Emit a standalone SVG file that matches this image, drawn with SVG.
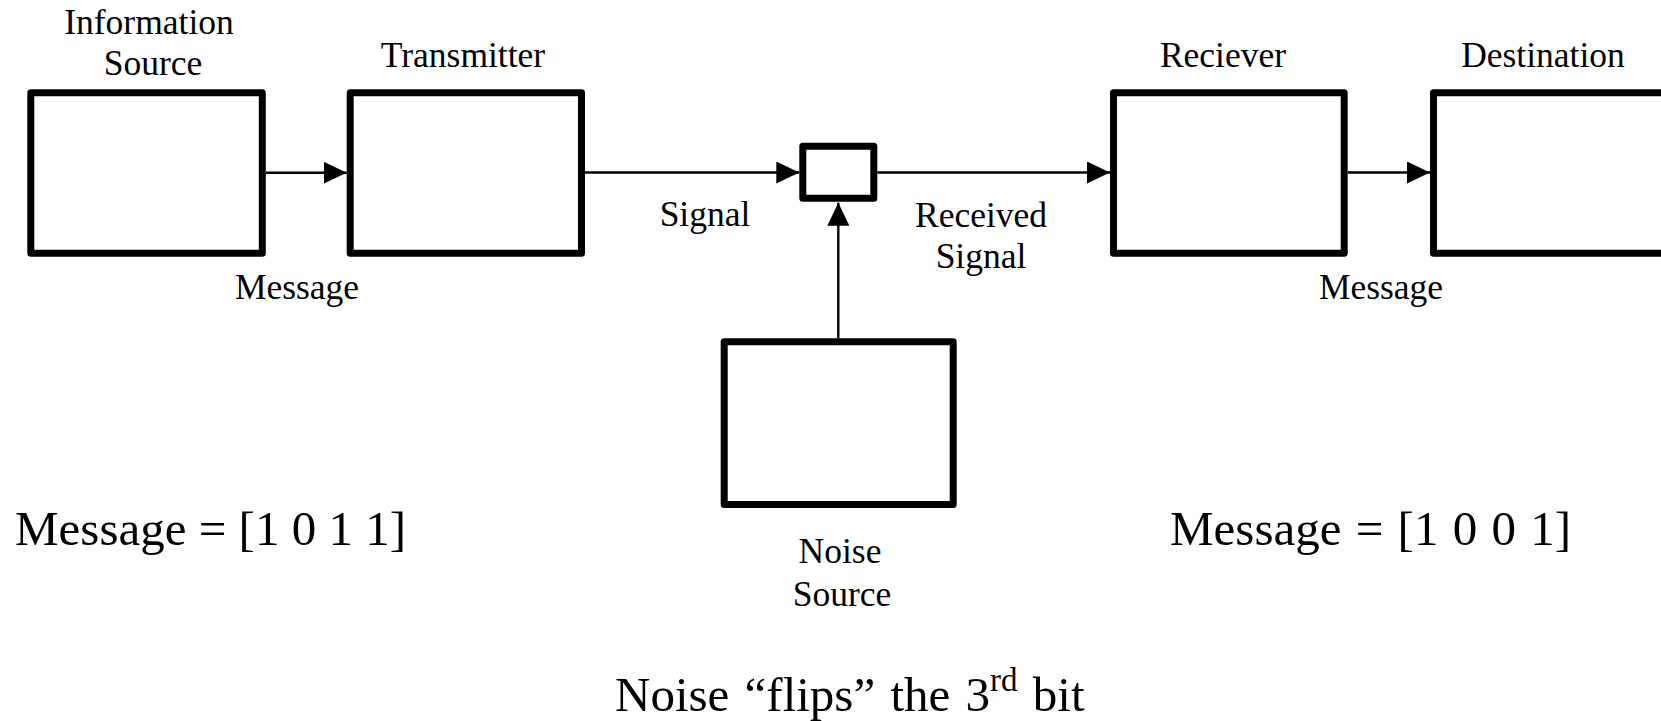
<svg xmlns="http://www.w3.org/2000/svg" width="1661" height="721" viewBox="0 0 1661 721">
<style>
.box{fill:#fff;stroke:#000;stroke-width:7;stroke-linejoin:round}
.conn{stroke:#000;stroke-width:2.4;fill:none}
.lbl{font-family:"Liberation Serif","Times New Roman",serif;font-size:35.5px;fill:#000;text-anchor:middle}
.big{font-family:"Liberation Serif","Times New Roman",serif;font-size:49px;fill:#000}
</style>
<defs>
<marker id="ah" markerUnits="userSpaceOnUse" markerWidth="24" markerHeight="22" refX="23" refY="11" orient="auto">
<path d="M0,0 L23,11 L0,22 Z" fill="#000"/>
</marker>
</defs>
<rect width="1661" height="721" fill="#fff"/>
<g id="connectors">
<line class="conn" x1="266" y1="172.7" x2="346.7" y2="172.7" marker-end="url(#ah)"/>
<line class="conn" x1="585" y1="172.5" x2="799.3" y2="172.5" marker-end="url(#ah)"/>
<line class="conn" x1="877.3" y1="172.5" x2="1110" y2="172.5" marker-end="url(#ah)"/>
<line class="conn" x1="1347.7" y1="172.5" x2="1430" y2="172.5" marker-end="url(#ah)"/>
<line class="conn" x1="838.3" y1="338.3" x2="838.3" y2="202.7" marker-end="url(#ah)"/>
</g>
<g id="info-source">
<rect class="box" x="30.8" y="92.8" width="231.5" height="160.5"/>
<text class="lbl" x="149" y="34">Information</text>
<text class="lbl" x="153" y="75">Source</text>
</g>
<g id="transmitter">
<rect class="box" x="350.2" y="92.8" width="231.3" height="160.5"/>
<text class="lbl" x="463" y="66.7">Transmitter</text>
</g>
<g id="channel">
<rect class="box" x="802.8" y="146.2" width="71" height="52"/>
</g>
<g id="receiver">
<rect class="box" x="1113.5" y="92.8" width="230.7" height="160.5"/>
<text class="lbl" x="1223" y="66.7">Reciever</text>
</g>
<g id="destination">
<rect class="box" x="1433.5" y="92.8" width="231" height="160.5"/>
<text class="lbl" x="1543" y="66.7">Destination</text>
</g>
<g id="noise-source">
<rect class="box" x="724.2" y="341.8" width="229" height="162.7"/>
<text class="lbl" x="840" y="562.7">Noise</text>
<text class="lbl" x="842" y="606">Source</text>
</g>
<g id="labels">
<text class="lbl" x="297" y="299">Message</text>
<text class="lbl" x="1381" y="299">Message</text>
<text class="lbl" x="705" y="226">Signal</text>
<text class="lbl" x="981" y="226.7">Received</text>
<text class="lbl" x="981" y="268.3">Signal</text>
<text class="big" x="15" y="545">Message = [1 0 1 1]</text>
<text class="big" x="1170" y="545" word-spacing="2">Message = [1 0 0 1]</text>
<text class="big" x="615" y="711" font-size="52" word-spacing="3">Noise “flips” the 3<tspan dy="-20" font-size="33">rd</tspan><tspan dy="20"> bit</tspan></text>
</g>
</svg>
